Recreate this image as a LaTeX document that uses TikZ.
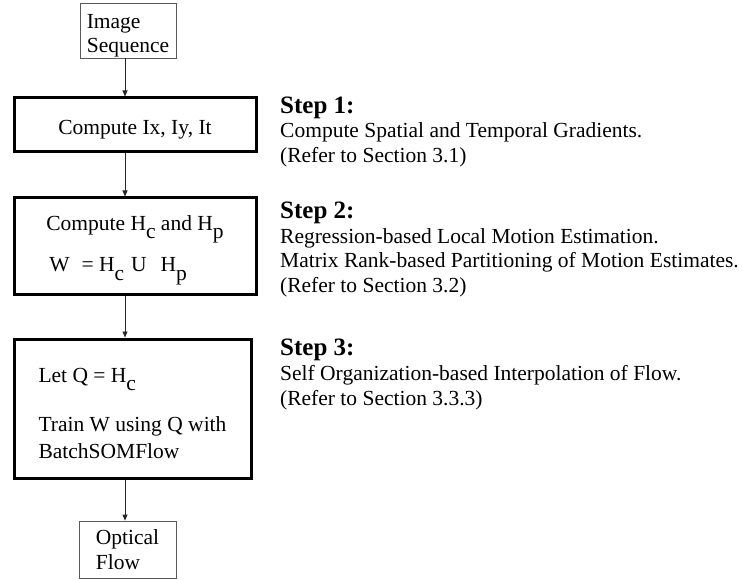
\documentclass[tikz,border=0pt]{standalone}
\usepackage{fontspec}
\setmainfont{Liberation Serif}
\usetikzlibrary{arrows.meta}

% lowered subscript letter, as in the original drawing
\newcommand{\lowsub}[1]{\raisebox{-0.4em}{#1}}
% taller first line, pushes the text block down in its box
\newcommand{\pushdown}[1]{\rule{0pt}{#1}}

\begin{document}
\begin{tikzpicture}[x=1pt, y=-1pt, >={Triangle[length=6pt,width=5pt]},
  font=\fontsize{21.5}{24.5}\selectfont,
  thinbox/.style={draw=black!65, line width=0.8pt, align=left, inner sep=0pt},
  stepbox/.style={draw, line width=3pt, align=left, inner sep=0pt},
  steptitle/.style={anchor=base west, inner sep=0pt, font=\fontsize{25}{28}\selectfont\bfseries},
  stepnote/.style={anchor=north west, inner sep=0pt, align=left},
  flowline/.style={->, line width=0.8pt, black!85}]

\useasboundingbox (0,0) rectangle (742,580);

% Left column: processing chain
\node[thinbox, minimum width=96pt, minimum height=55pt] (imgseq) at (128,30.5) {\pushdown{25pt}Image\\Sequence};
\node[stepbox, minimum width=242pt, minimum height=54pt] (grad) at (135,125) {\pushdown{23pt}Compute Ix, Iy, It};
\node[stepbox, minimum width=242pt, minimum height=97pt] (motion) at (135,246.5)
  {\pushdown{22pt}Compute H\lowsub{c} and H\lowsub{p}\\[13pt]
   \hspace{3pt}W\hspace{12pt}= H\lowsub{c}\hspace{7pt}U\hspace{14pt}H\lowsub{p}};
\node[stepbox, minimum width=237pt, minimum height=139pt] (som) at (132.5,408.5)
  {\pushdown{24pt}Let Q = H\lowsub{c}\\[25pt] Train W using Q with\\[2pt]BatchSOMFlow};
\node[thinbox, minimum width=97pt, minimum height=57pt] (optflow) at (127.5,549.5) {Optical\\Flow};

% Connectors along one vertical line
\coordinate (spine) at (125,0);
\draw[flowline] (imgseq.south -| spine) -- (grad.north -| spine);
\draw[flowline] (grad.south -| spine) -- (motion.north -| spine);
\draw[flowline] (motion.south -| spine) -- (som.north -| spine);
\draw[flowline] (som.south -| spine) -- (optflow.north -| spine);

% Right column: step descriptions
\node[steptitle] (s1head) at (280,113.5) {Step 1:};
\node[stepnote] (s1note) at (280,122.5) {Compute Spatial and Temporal Gradients.\\(Refer to Section 3.1)};

\node[steptitle] (s2head) at (280,218.5) {Step 2:};
\node[stepnote] (s2note) at (280,228) {Regression-based Local Motion Estimation.\\Matrix Rank-based Partitioning of Motion Estimates.\\(Refer to Section 3.2)};

\node[steptitle] (s3head) at (280,355.5) {Step 3:};
\node[stepnote] (s3note) at (280,365.5) {Self Organization-based Interpolation of Flow.\\(Refer to Section 3.3.3)};

\end{tikzpicture}
\end{document}
